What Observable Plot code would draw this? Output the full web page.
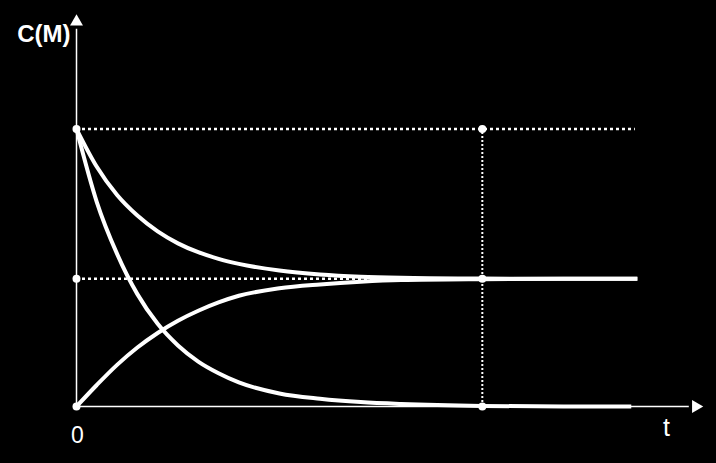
<!DOCTYPE html>
<html>
<head>
<meta charset="utf-8">
<script src="https://cdn.jsdelivr.net/npm/d3@7"></script>
<script src="https://cdn.jsdelivr.net/npm/@observablehq/plot@0.6"></script>
<style>
  html, body { margin: 0; padding: 0; background: #000; }
  #chart { width: 716px; height: 463px; overflow: hidden; }
</style>
</head>
<body>
<div id="chart"></div>
<script>
// ---- data ----
const times      = [0, 0.5, 1, 1.5, 2, 2.5, 3, 3.5, 4, 5, 6, 7, 8, 10, 12, 13.82];
const upperDecay = [1.0, 0.864, 0.762, 0.688, 0.631, 0.588, 0.556, 0.532, 0.514, 0.490, 0.476, 0.468, 0.464, 0.461, 0.460, 0.460];
const rise       = [0, 0.0775, 0.150, 0.2125, 0.265, 0.309, 0.345, 0.375, 0.399, 0.426, 0.440, 0.450, 0.456, 0.459, 0.460, 0.460];
const timesFull  = [0, 0.5, 1, 1.5, 2, 2.5, 3, 3.5, 4, 5, 6, 7, 8, 10, 12, 13.67];
const fullDecay  = [1.0, 0.737, 0.55, 0.405, 0.298, 0.22, 0.162, 0.12, 0.087, 0.047, 0.028, 0.016, 0.009, 0.002, 0.0, 0.0];

const initialC = 1.0;        // C0
const equilibriumC = 0.46;   // Ceq
const markTime = 10;         // vertical reference time
const guideEnd = 13.77;      // end of dotted guides
const xMax = 15.45, yMax = 1.42;
const yLabel = "C(M)", xLabel = "t", originLabel = "0";

// ---- build table ----
const curves = [
  ...times.map((t, i) => ({series: "A", t, c: upperDecay[i]})),
  ...timesFull.map((t, i) => ({series: "B", t, c: fullDecay[i]})),
  ...times.map((t, i) => ({series: "C", t, c: rise[i]}))
];
const keyPoints = [
  {t: 0, c: initialC}, {t: markTime, c: initialC},
  {t: 0, c: equilibriumC}, {t: markTime, c: equilibriumC},
  {t: 0, c: 0}, {t: markTime, c: 0}
];

const font = "'Liberation Sans', Arial, sans-serif";

const chart = Plot.plot({
  width: 716,
  height: 463,
  marginLeft: 76,
  marginRight: 13,
  marginTop: 12,
  marginBottom: 57,
  x: {domain: [0, xMax], axis: null},
  y: {domain: [0, yMax], axis: null},
  style: {background: "#000", color: "#fff", fontFamily: font},
  marks: [
    // axes
    Plot.ruleY([0], {x1: 0, x2: 15.1, stroke: "#fff", strokeWidth: 1.5}),
    Plot.ruleX([0], {y1: 0, y2: 1.36, stroke: "#fff", strokeWidth: 1.5}),
    Plot.dot([{t: 15.26, c: 0}], {x: "t", y: "c", symbol: "triangle", r: 4.8, fill: "#fff", stroke: null, rotate: 90}),
    Plot.dot([{t: 0, c: 1.3865}], {x: "t", y: "c", symbol: "triangle", r: 4.8, fill: "#fff", stroke: null}),
    // dotted guides
    Plot.ruleY([initialC, equilibriumC], {x1: 0, x2: guideEnd, stroke: "#fff", strokeWidth: 2.5, strokeDasharray: "3,3"}),
    Plot.ruleX([markTime], {y1: 0, y2: initialC, stroke: "#fff", strokeWidth: 2, strokeDasharray: "2,2"}),
    // curves
    Plot.line(curves, {x: "t", y: "c", z: "series", stroke: "#fff", strokeWidth: 4, curve: "monotone-x", strokeLinecap: "butt"}),
    // key points
    Plot.dot(keyPoints, {x: "t", y: "c", r: 4, fill: "#fff", stroke: null}),
    // labels
    Plot.text([yLabel], {x: 0, y: 1.341, dx: -6, textAnchor: "end", fill: "#fff", fontSize: 24, fontWeight: "bold"}),
    Plot.text([originLabel], {x: 0, y: 0, dy: 28.7, dx: 1, fill: "#fff", fontSize: 23}),
    Plot.text([xLabel], {x: 14.54, y: 0, dy: 21.3, fill: "#fff", fontSize: 25})
  ]
});
document.getElementById("chart").appendChild(chart);
</script>
</body>
</html>
